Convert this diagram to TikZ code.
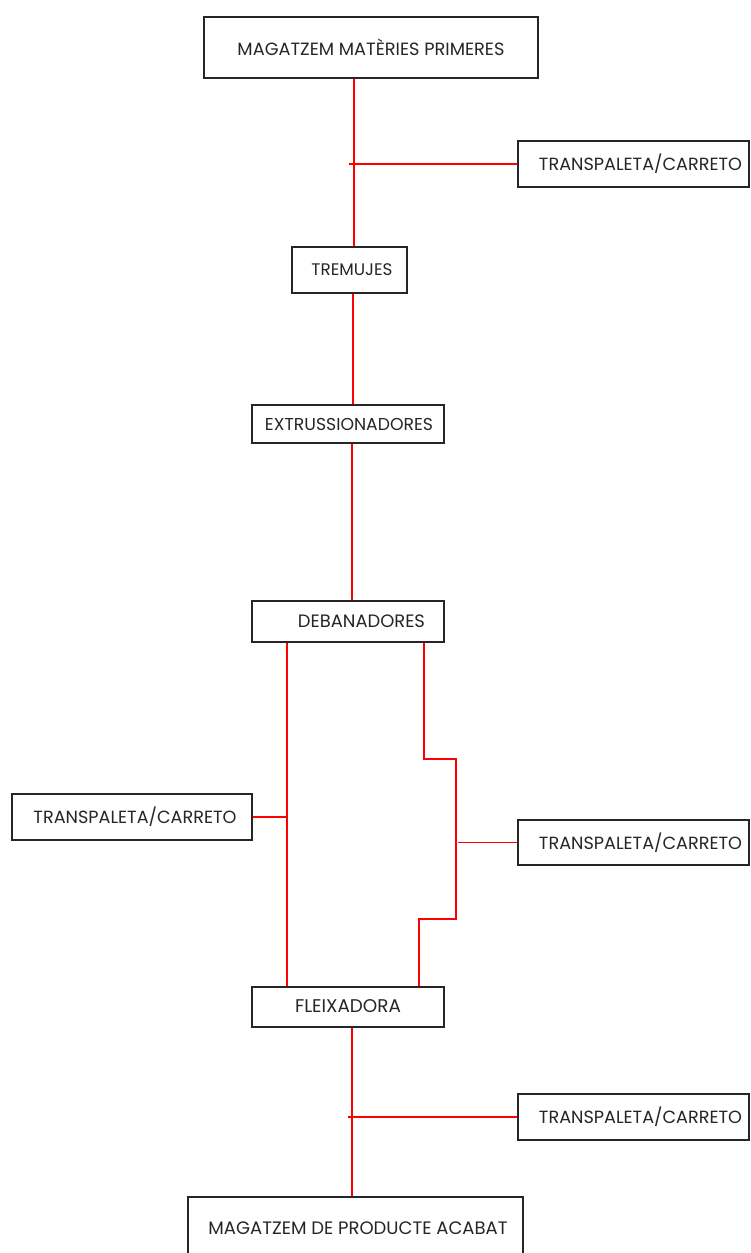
\documentclass[tikz,border=0pt]{standalone}
\usepackage{fontspec}
\setmainfont{Poppins}
\usepackage{graphicx}
% label set to a fixed printed width
\newcommand{\fitw}[2]{\resizebox{#1}{!}{#2}}
\begin{document}
\begin{tikzpicture}[x=1pt,y=-1pt,
  box/.style={draw=black!85,line width=1.6pt,fill=white,inner sep=0pt,
    rectangle,text=black!85},
  link/.style={draw=red,line width=1.3pt}]
\useasboundingbox (0,0) rectangle (751,1253);

% stations of the process
\node[box,minimum width=334,minimum height=61] (mp) at (371,47.5)
  {\raisebox{-3pt}{\fitw{267pt}{MAGATZEM MATÈRIES PRIMERES}}};
\node[box,minimum width=231,minimum height=46] (t1) at (633.5,164)
  {\hspace*{14pt}\fitw{203pt}{TRANSPALETA/CARRETO}};
\node[box,minimum width=115,minimum height=46] (trem) at (349.5,270)
  {\hspace*{5pt}\fitw{81pt}{TREMUJES}};
\node[box,minimum width=192,minimum height=38] (ext) at (348,424)
  {\hspace*{2pt}\fitw{168pt}{EXTRUSSIONADORES}};
\node[box,minimum width=192,minimum height=41] (deb) at (348,621.5)
  {\hspace*{27pt}\fitw{127pt}{DEBANADORES}};
\node[box,minimum width=240,minimum height=46] (tl) at (132,817)
  {\hspace*{6pt}\fitw{203pt}{TRANSPALETA/CARRETO}};
\node[box,minimum width=231,minimum height=45] (tm) at (633.5,842.5)
  {\hspace*{14pt}\fitw{203pt}{TRANSPALETA/CARRETO}};
\node[box,minimum width=192,minimum height=40] (fle) at (348,1007)
  {\raisebox{2pt}{\fitw{106pt}{FLEIXADORA}}};
\node[box,minimum width=231,minimum height=46] (tb) at (633.5,1117)
  {\hspace*{14pt}\fitw{203pt}{TRANSPALETA/CARRETO}};
\node[box,minimum width=335,minimum height=62] (pa) at (355.5,1228)
  {\hspace*{5pt}\fitw{299pt}{MAGATZEM DE PRODUCTE ACABAT}};

% guide abscissae for the connectors
\coordinate (xa) at (354,0);
\coordinate (xb) at (353,0);
\coordinate (xc) at (352,0);
\coordinate (xl) at (287,0);
\coordinate (xr) at (424,0);
\coordinate (xf) at (419,0);

% tap points on the main line
\coordinate (j1) at (349,164);
\coordinate (j2) at (287,817);
\coordinate (j3) at (458,842.5);
\coordinate (j4) at (347.5,1117);

% bracket of the right-hand branch
\coordinate (r1) at (424,759);
\coordinate (r2) at (456,759);
\coordinate (r3) at (456,919);
\coordinate (r4) at (419,919);

\draw[link] (mp.south -| xa) -- (trem.north -| xa);
\draw[link] (j1) -- (t1.west);
\draw[link] (trem.south -| xb) -- (ext.north -| xb);
\draw[link] (ext.south -| xc) -- (deb.north -| xc);

\draw[link] (deb.south -| xl) -- (fle.north -| xl);
\draw[link] (tl.east) -- (j2);

\draw[link] (deb.south -| xr) -- (r1) -- (r2) -- (r3) -- (r4) -- (fle.north -| xf);
\draw[link] (j3) -- (tm.west);

\draw[link] (fle.south -| xc) -- (pa.north -| xc);
\draw[link] (j4) -- (tb.west);
\end{tikzpicture}
\end{document}
